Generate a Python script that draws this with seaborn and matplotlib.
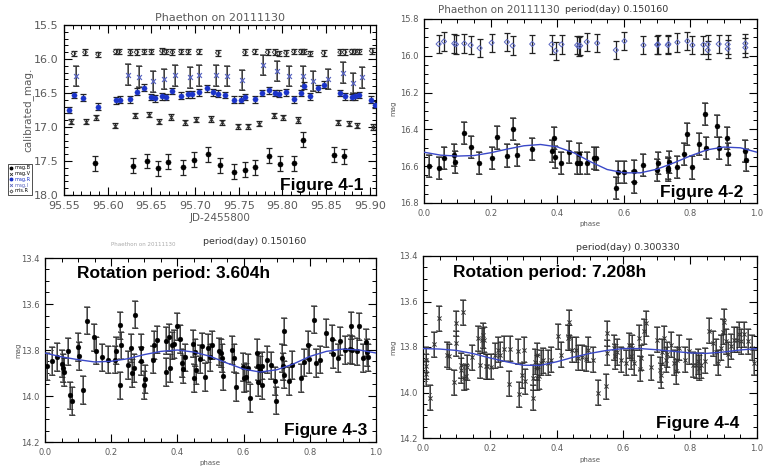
import numpy as np
import pandas as pd
import matplotlib
matplotlib.use("Agg")
import matplotlib.pyplot as plt
from matplotlib.ticker import MultipleLocator, FormatStrFormatter
from matplotlib.lines import Line2D
import seaborn as sns

# ---------------- Panel 1 data (JD-2455800 vs calibrated mag) ----------------
b_jd = [95.585, 95.629, 95.645, 95.657, 95.669, 95.686, 95.699, 95.715, 95.728, 95.745,
        95.757, 95.769, 95.785, 95.797, 95.813, 95.823, 95.859, 95.870]
b_mag = [17.53, 17.57, 17.50, 17.61, 17.51, 17.59, 17.48, 17.40, 17.56, 17.66,
         17.63, 17.59, 17.42, 17.54, 17.53, 17.19, 17.41, 17.43]

r_jd = [95.556, 95.561, 95.572, 95.589, 95.609, 95.614, 95.626, 95.633, 95.642, 95.650,
        95.654, 95.662, 95.667, 95.674, 95.684, 95.692, 95.697, 95.704, 95.714, 95.721,
        95.726, 95.734, 95.745, 95.752, 95.757, 95.768, 95.776, 95.784, 95.791, 95.796,
        95.804, 95.813, 95.821, 95.825, 95.832, 95.841, 95.848, 95.866, 95.871, 95.879,
        95.883, 95.888, 95.901, 95.906]
r_mag = [16.75, 16.53, 16.57, 16.70, 16.61, 16.60, 16.59, 16.48, 16.42, 16.56,
         16.58, 16.55, 16.56, 16.47, 16.54, 16.52, 16.52, 16.49, 16.43, 16.49,
         16.51, 16.53, 16.60, 16.60, 16.56, 16.59, 16.50, 16.46, 16.50, 16.51,
         16.49, 16.59, 16.50, 16.39, 16.55, 16.43, 16.38, 16.50, 16.55, 16.56,
         16.55, 16.53, 16.60, 16.67]

i_jd = [95.564, 95.623, 95.636, 95.652, 95.664, 95.677, 95.694, 95.705, 95.724, 95.736,
        95.754, 95.778, 95.794, 95.807, 95.823, 95.835, 95.852, 95.869, 95.881, 95.891]
i_mag = [16.25, 16.23, 16.26, 16.33, 16.29, 16.24, 16.27, 16.24, 16.24, 16.25,
         16.31, 16.09, 16.18, 16.25, 16.25, 16.32, 16.29, 16.20, 16.35, 16.27]

v_jd = [95.558, 95.575, 95.587, 95.608, 95.631, 95.647, 95.659, 95.672, 95.689, 95.701,
        95.718, 95.731, 95.749, 95.761, 95.773, 95.790, 95.801, 95.818, 95.864, 95.876,
        95.885, 95.904]
v_mag = [16.92, 16.92, 16.86, 16.98, 16.83, 16.82, 16.92, 16.85, 16.93, 16.89,
         16.88, 16.93, 16.99, 16.99, 16.95, 16.83, 16.86, 16.90, 16.93, 16.95,
         16.98, 17.00]

m_jd = [95.561, 95.574, 95.589, 95.609, 95.613, 95.626, 95.633, 95.642, 95.650, 95.662,
        95.667, 95.674, 95.684, 95.692, 95.704, 95.726, 95.757, 95.768, 95.783, 95.791,
        95.796, 95.804, 95.813, 95.821, 95.825, 95.832, 95.847, 95.866, 95.871, 95.879,
        95.883, 95.888, 95.902]
m_mag = [15.92, 15.90, 15.93, 15.89, 15.89, 15.90, 15.90, 15.89, 15.89, 15.88,
         15.89, 15.90, 15.89, 15.89, 15.89, 15.91, 15.90, 15.89, 15.90, 15.90,
         15.92, 15.91, 15.89, 15.89, 15.89, 15.92, 15.91, 15.90, 15.90, 15.89,
         15.89, 15.89, 15.88]

# ---------------- Panel 2 data (phase, period 0.150160 d) ----------------
p2_phase = [0.015, 0.044, 0.060, 0.091, 0.094, 0.121, 0.140, 0.165, 0.203, 0.220,
            0.249, 0.266, 0.279, 0.325, 0.383, 0.389, 0.394, 0.412, 0.435, 0.460,
            0.466, 0.469, 0.489, 0.511, 0.517, 0.576, 0.583, 0.601, 0.630, 0.632,
            0.659, 0.700, 0.703, 0.732, 0.734, 0.735, 0.761, 0.780, 0.791, 0.805,
            0.826, 0.843, 0.847, 0.880, 0.885, 0.910, 0.912, 0.965, 0.968]
p2_mag = [16.60, 16.61, 16.555, 16.538, 16.576, 16.422, 16.495, 16.584, 16.556, 16.444,
          16.542, 16.396, 16.540, 16.505, 16.518, 16.449, 16.549, 16.582, 16.522, 16.585,
          16.536, 16.585, 16.582, 16.555, 16.558, 16.716, 16.631, 16.631, 16.627, 16.685,
          16.591, 16.622, 16.584, 16.611, 16.618, 16.576, 16.602, 16.533, 16.427, 16.607,
          16.478, 16.318, 16.500, 16.384, 16.500, 16.445, 16.536, 16.518, 16.567]

p2c_phase = [0.044, 0.060, 0.091, 0.096, 0.121, 0.140, 0.167, 0.203, 0.249, 0.266,
             0.325, 0.383, 0.395, 0.413, 0.460, 0.465, 0.469, 0.489, 0.520, 0.576,
             0.602, 0.659, 0.700, 0.703, 0.732, 0.734, 0.761, 0.791, 0.806, 0.839,
             0.852, 0.852, 0.885, 0.912, 0.912, 0.965, 0.965]
p2c_mag = [15.936, 15.922, 15.933, 15.938, 15.933, 15.942, 15.958, 15.929, 15.925, 15.945,
           15.936, 15.938, 15.973, 15.938, 15.942, 15.949, 15.945, 15.924, 15.931, 15.969,
           15.920, 15.942, 15.940, 15.938, 15.942, 15.936, 15.927, 15.920, 15.942, 15.940,
           15.938, 15.969, 15.936, 15.938, 15.962, 15.933, 15.955]

fit_phase = [0.00, 0.05, 0.10, 0.15, 0.20, 0.25, 0.30, 0.35, 0.40, 0.45, 0.50,
             0.55, 0.60, 0.65, 0.70, 0.75, 0.80, 0.85, 0.90, 0.95, 1.00]
p2_fit = [16.524, 16.540, 16.545, 16.542, 16.527, 16.507, 16.489, 16.482, 16.495, 16.527, 16.576,
          16.618, 16.636, 16.636, 16.616, 16.582, 16.544, 16.511, 16.496, 16.500, 16.524]

# ---------------- Panel 3 data (phase, period 0.150160 d) ----------------
p3_phase = [0.007, 0.022, 0.035, 0.052, 0.054, 0.058, 0.068, 0.075, 0.082, 0.099,
            0.103, 0.115, 0.128, 0.149, 0.153, 0.173, 0.191, 0.211, 0.213, 0.226,
            0.228, 0.230, 0.251, 0.259, 0.264, 0.269, 0.273, 0.289, 0.291, 0.298,
            0.303, 0.327, 0.329, 0.337, 0.365, 0.367, 0.375, 0.377, 0.385, 0.389,
            0.399, 0.407, 0.413, 0.417, 0.423, 0.446, 0.450, 0.453, 0.456, 0.468,
            0.473, 0.484, 0.493, 0.498, 0.504, 0.526, 0.532, 0.536, 0.538, 0.564,
            0.571, 0.578, 0.597, 0.602, 0.608, 0.613, 0.618, 0.641, 0.642, 0.645,
            0.649, 0.655, 0.657, 0.670, 0.682, 0.696, 0.698, 0.715, 0.718, 0.722,
            0.723, 0.736, 0.746, 0.774, 0.782, 0.795, 0.797, 0.814, 0.819, 0.831,
            0.848, 0.866, 0.869, 0.886, 0.892, 0.907, 0.921, 0.924, 0.928, 0.942,
            0.949, 0.962, 0.970, 0.972, 0.977]
p3_mag = [13.871, 13.849, 13.830, 13.859, 13.878, 13.896, 13.806, 13.997, 14.023, 13.788,
          13.825, 13.975, 13.672, 13.745, 13.803, 13.832, 13.842, 13.842, 13.803, 13.954,
          13.693, 13.780, 13.864, 13.791, 13.900, 13.878, 13.646, 13.791, 13.849, 13.951,
          13.925, 13.842, 13.777, 13.755, 13.759, 13.896, 13.745, 13.878, 13.780, 13.774,
          13.697, 13.751, 13.857, 13.883, 13.832, 13.772, 13.922, 13.810, 13.886, 13.838,
          13.784, 13.917, 13.791, 13.832, 13.777, 13.806, 13.813, 13.835, 13.912, 13.801,
          13.835, 13.962, 13.875, 13.922, 13.917, 13.878, 14.009, 13.813, 13.871, 13.939,
          13.886, 13.868, 13.954, 13.842, 13.867, 13.936, 14.020, 13.835, 13.871, 13.719,
          13.907, 13.936, 13.864, 13.922, 13.854, 13.777, 13.839, 13.668, 13.857, 13.842,
          13.726, 13.752, 13.817, 13.835, 13.762, 13.801, 13.796, 13.694, 13.801, 13.806,
          13.697, 13.835, 13.767, 13.810, 13.832]
p3_fit = [13.813, 13.830, 13.842, 13.852, 13.849, 13.838, 13.820, 13.806, 13.800, 13.809, 13.828,
          13.857, 13.883, 13.896, 13.886, 13.861, 13.828, 13.806, 13.796, 13.800, 13.813]

# ---------------- Panel 4 data (phase, period 0.300330 d) ----------------
p4_phase = [0.009, 0.009, 0.010, 0.022, 0.032, 0.049, 0.071, 0.077, 0.092, 0.098,
            0.098, 0.114, 0.115, 0.119, 0.122, 0.128, 0.133, 0.147, 0.165, 0.170,
            0.177, 0.180, 0.182, 0.188, 0.192, 0.205, 0.217, 0.224, 0.230, 0.244,
            0.258, 0.261, 0.285, 0.287, 0.297, 0.302, 0.305, 0.328, 0.328, 0.335,
            0.340, 0.341, 0.342, 0.347, 0.352, 0.360, 0.374, 0.384, 0.405, 0.413,
            0.433, 0.436, 0.438, 0.446, 0.457, 0.464, 0.475, 0.489, 0.494, 0.508,
            0.525, 0.547, 0.550, 0.552, 0.572, 0.574, 0.582, 0.592, 0.608, 0.617,
            0.623, 0.627, 0.632, 0.647, 0.650, 0.654, 0.662, 0.667, 0.682, 0.700,
            0.711, 0.712, 0.716, 0.722, 0.727, 0.732, 0.742, 0.750, 0.758, 0.761,
            0.765, 0.784, 0.797, 0.807, 0.817, 0.822, 0.825, 0.833, 0.844, 0.857,
            0.867, 0.877, 0.884, 0.892, 0.899, 0.900, 0.907, 0.914, 0.922, 0.930,
            0.940, 0.947, 0.952, 0.962, 0.974, 0.986, 0.990]
p4_mag = [13.855, 13.884, 13.918, 14.023, 13.787, 13.673, 13.833, 13.841, 13.954, 13.695,
          13.783, 13.880, 13.903, 13.647, 13.935, 13.928, 13.889, 13.846, 13.761, 13.880,
          13.771, 13.749, 13.768, 13.884, 13.884, 13.886, 13.836, 13.812, 13.833, 13.807,
          13.961, 13.807, 13.819, 14.008, 13.924, 13.812, 13.950, 13.935, 14.023, 13.865,
          13.836, 13.892, 13.935, 13.928, 13.870, 13.858, 13.870, 13.855, 13.753, 13.833,
          13.759, 13.691, 13.757, 13.812, 13.812, 13.848, 13.845, 13.851, 13.812, 13.855,
          14.001, 13.972, 13.739, 13.826, 13.804, 13.841, 13.822, 13.855, 13.870, 13.793,
          13.841, 13.804, 13.870, 13.759, 13.895, 13.848, 13.730, 13.695, 13.889, 13.768,
          13.899, 13.924, 13.822, 13.761, 13.855, 13.831, 13.790, 13.870, 13.906, 13.855,
          13.804, 13.857, 13.819, 13.877, 13.880, 13.863, 13.892, 13.880, 13.860, 13.729,
          13.783, 13.822, 13.870, 13.804, 13.732, 13.688, 13.775, 13.831, 13.797, 13.768,
          13.768, 13.743, 13.775, 13.743, 13.775, 13.804, 13.870]
p4_fit = [13.807, 13.809, 13.815, 13.829, 13.848, 13.865, 13.880, 13.881, 13.865, 13.845, 13.828,
          13.815, 13.807, 13.807, 13.812, 13.819, 13.826, 13.828, 13.822, 13.813, 13.807]

legend_labels = ["mag.B", "mag.V", "mag.R", "mag.I", "mis.R"]

# ---------------- Styling ----------------
sns.set_style("white")
plt.rcParams["font.family"] = ["DejaVu Sans"]

W, H = 763, 466
fig = plt.figure(figsize=(W / 100, H / 100), dpi=100)

def axes_px(left, top, right, bottom):
    return fig.add_axes([left / W, 1 - bottom / H, (right - left) / W, (bottom - top) / H])

GRAY = "#5a5a5a"
BLUE = "#1a33c8"
LBLUE = "#5a66c0"
FIT = "#3a48c8"

def idl_style(ax, fs, xmaj, xmin, ymaj, ymin, xfmt, yfmt):
    for s in ax.spines.values():
        s.set_color("black")
        s.set_linewidth(0.9)
    ax.xaxis.set_major_locator(MultipleLocator(xmaj))
    ax.xaxis.set_minor_locator(MultipleLocator(xmin))
    ax.yaxis.set_major_locator(MultipleLocator(ymaj))
    ax.yaxis.set_minor_locator(MultipleLocator(ymin))
    ax.xaxis.set_major_formatter(FormatStrFormatter(xfmt))
    ax.yaxis.set_major_formatter(FormatStrFormatter(yfmt))
    ax.tick_params(which="both", direction="in", top=True, right=True,
                   bottom=True, left=True, colors="black", labelcolor=GRAY,
                   labelsize=fs)
    ax.tick_params(which="major", length=6, width=0.8, pad=4)
    ax.tick_params(which="minor", length=3, width=0.7)
    ax.set_xlabel("")
    ax.set_ylabel("")

def ebar(ax, x, y, err, color, lw=1.0, cap=2.0):
    ax.errorbar(x, y, yerr=err, fmt="none", ecolor=color, elinewidth=lw,
                capsize=cap, capthick=lw, zorder=2)

BOLD = dict(fontsize=12.5, fontweight="bold", family="Liberation Sans", color="black")

# ---------------- Panel 1 ----------------
ax1 = axes_px(64, 25, 376, 195)
ebar(ax1, m_jd, m_mag, 0.04, "#222222", 0.9, 2.4)
ebar(ax1, v_jd, v_mag, 0.04, "#222222", 0.9, 2.4)
ebar(ax1, i_jd, i_mag, 0.15, "#808080", 1.4, 2.4)
ebar(ax1, i_jd, i_mag, 0.15, "#222222", 0.5, 2.4)
ebar(ax1, r_jd, r_mag, 0.05, "#222222", 0.9, 2.4)
ebar(ax1, b_jd, b_mag, 0.11, "#222222", 0.9, 2.4)
sns.scatterplot(x=m_jd, y=m_mag, ax=ax1, marker="D", s=6, facecolor="none",
                edgecolor="#333333", linewidth=0.6, zorder=3)
sns.scatterplot(x=v_jd, y=v_mag, ax=ax1, marker="x", s=9, color="#333333", linewidth=0.8, zorder=3)
sns.scatterplot(x=i_jd, y=i_mag, ax=ax1, marker="x", s=12, color=LBLUE, linewidth=0.9, zorder=3)
sns.scatterplot(x=r_jd, y=r_mag, ax=ax1, marker="o", s=14, color=BLUE, edgecolor=BLUE, zorder=3)
sns.scatterplot(x=b_jd, y=b_mag, ax=ax1, marker="o", s=14, color="black", edgecolor="black", zorder=3)
ax1.set_xlim(95.55, 95.907)
ax1.set_ylim(18.0, 15.5)
idl_style(ax1, 8, 0.05, 0.01, 0.5, 0.1, "%.2f", "%.1f")
ax1.set_title("Phaethon on 20111130", fontsize=8, color=GRAY, pad=3)
ax1.text(0.96, 0.055, "Figure 4-1", transform=ax1.transAxes, ha="right", va="center", **BOLD)
fig.text(28 / W, 1 - 110 / H, "calibrated_mag.", rotation=90, ha="center", va="center",
         fontsize=7.5, color=GRAY)
fig.text(220 / W, 1 - 218 / H, "JD-2455800", ha="center", va="center", fontsize=7.5, color=GRAY)

handles = [
    Line2D([], [], ls="none", marker="o", ms=1.8, color="black"),
    Line2D([], [], ls="none", marker="x", ms=2.0, color="#333333", mew=0.6),
    Line2D([], [], ls="none", marker="o", ms=1.8, color=BLUE),
    Line2D([], [], ls="none", marker="x", ms=2.0, color=LBLUE, mew=0.6),
    Line2D([], [], ls="none", marker="D", ms=1.6, mfc="none", mec="#333333", mew=0.5),
]
leg = ax1.legend(handles, legend_labels, loc="lower left", bbox_to_anchor=(-0.18, 0.0),
                 fontsize=3.6, frameon=True, fancybox=False, handletextpad=0.2,
                 borderpad=0.3, labelspacing=0.15, handlelength=0.8, borderaxespad=0)
leg.get_frame().set_edgecolor("black")
leg.get_frame().set_linewidth(0.6)
for t, c in zip(leg.get_texts(), ["black", "black", BLUE, LBLUE, "black"]):
    t.set_color(c)

# ---------------- Panel 2 ----------------
ax2 = axes_px(424, 19, 757, 203)
ebar(ax2, p2c_phase, p2c_mag, 0.05, "#222222", 0.9, 2.0)
ebar(ax2, p2_phase, p2_mag, 0.06, "#777777", 1.4, 2.0)
ebar(ax2, p2_phase, p2_mag, 0.06, "#222222", 0.5, 2.0)
sns.lineplot(x=fit_phase, y=p2_fit, ax=ax2, color=FIT, linewidth=1.0, estimator=None,
             sort=False, zorder=4)
sns.scatterplot(x=p2c_phase, y=p2c_mag, ax=ax2, marker="D", s=7, facecolor="none",
                edgecolor=LBLUE, linewidth=0.7, zorder=3)
sns.scatterplot(x=p2_phase, y=p2_mag, ax=ax2, marker="o", s=13, color="black",
                edgecolor="black", zorder=3)
ax2.set_xlim(0, 1)
ax2.set_ylim(16.8, 15.8)
idl_style(ax2, 6, 0.2, 0.05, 0.2, 0.05, "%.1f", "%.1f")
fig.text(563 / W, 1 - 10 / H, "Phaethon on 20111130 ", ha="right", va="center",
         fontsize=7.5, color=GRAY)
fig.text(565 / W, 1 - 10 / H, "period(day) 0.150160", ha="left", va="center",
         fontsize=6.8, color="#333333")
fig.text(393 / W, 1 - 108 / H, "mag", rotation=90, ha="center", va="center", fontsize=5, color=GRAY)
fig.text(590 / W, 1 - 224 / H, "phase", ha="center", va="center", fontsize=5, color=GRAY)
ax2.text(0.958, 0.057, "Figure 4-2", transform=ax2.transAxes, ha="right", va="center", **BOLD)

# ---------------- Panel 3 ----------------
ax3 = axes_px(45, 258, 376, 442)
ebar(ax3, p3_phase, p3_mag, 0.06, "#8a8a8a", 1.4, 2.0)
ebar(ax3, p3_phase, p3_mag, 0.06, "#222222", 0.5, 2.0)
sns.lineplot(x=fit_phase, y=p3_fit, ax=ax3, color=FIT, linewidth=1.0, estimator=None,
             sort=False, zorder=4)
sns.scatterplot(x=p3_phase, y=p3_mag, ax=ax3, marker="o", s=12, color="black",
                edgecolor="black", zorder=3)
ax3.set_xlim(0, 1)
ax3.set_ylim(14.2, 13.4)
idl_style(ax3, 6, 0.2, 0.05, 0.2, 0.05, "%.1f", "%.1f")
fig.text(255 / W, 1 - 242 / H, "period(day) 0.150160", ha="center", va="center",
         fontsize=6.8, color="#333333")
fig.text(143 / W, 1 - 244 / H, "Phaethon on 20111130", ha="center", va="center",
         fontsize=4, color="#aaaaaa")
fig.text(18 / W, 1 - 350 / H, "mag", rotation=90, ha="center", va="center", fontsize=5, color=GRAY)
fig.text(210 / W, 1 - 463 / H, "phase", ha="center", va="center", fontsize=5, color=GRAY)
ax3.text(0.973, 0.0625, "Figure 4-3", transform=ax3.transAxes, ha="right", va="center", **BOLD)
ax3.text(0.097, 0.918, "Rotation period: 3.604h", transform=ax3.transAxes, ha="left",
         va="center", **BOLD)

# ---------------- Panel 4 ----------------
ax4 = axes_px(423, 256, 757, 438)
ebar(ax4, p4_phase, p4_mag, 0.055, "#8a8a8a", 1.4, 2.0)
ebar(ax4, p4_phase, p4_mag, 0.055, "#222222", 0.5, 2.0)
sns.lineplot(x=fit_phase, y=p4_fit, ax=ax4, color=FIT, linewidth=1.0, estimator=None,
             sort=False, zorder=4)
sns.scatterplot(x=p4_phase, y=p4_mag, ax=ax4, marker="x", s=9, color="#333333",
                linewidth=0.7, zorder=3)
ax4.set_xlim(0, 1)
ax4.set_ylim(14.2, 13.4)
idl_style(ax4, 6, 0.2, 0.05, 0.2, 0.05, "%.1f", "%.1f")
fig.text(628 / W, 1 - 248 / H, "period(day) 0.300330", ha="center", va="center",
         fontsize=6.8, color="#333333")
fig.text(393 / W, 1 - 347 / H, "mag", rotation=90, ha="center", va="center", fontsize=5, color=GRAY)
fig.text(590 / W, 1 - 460 / H, "phase", ha="center", va="center", fontsize=5, color=GRAY)
ax4.text(0.946, 0.082, "Figure 4-4", transform=ax4.transAxes, ha="right", va="center", **BOLD)
ax4.text(0.09, 0.912, "Rotation period: 7.208h", transform=ax4.transAxes, ha="left",
         va="center", **BOLD)

fig.savefig("out.png", dpi=100, facecolor="white")
